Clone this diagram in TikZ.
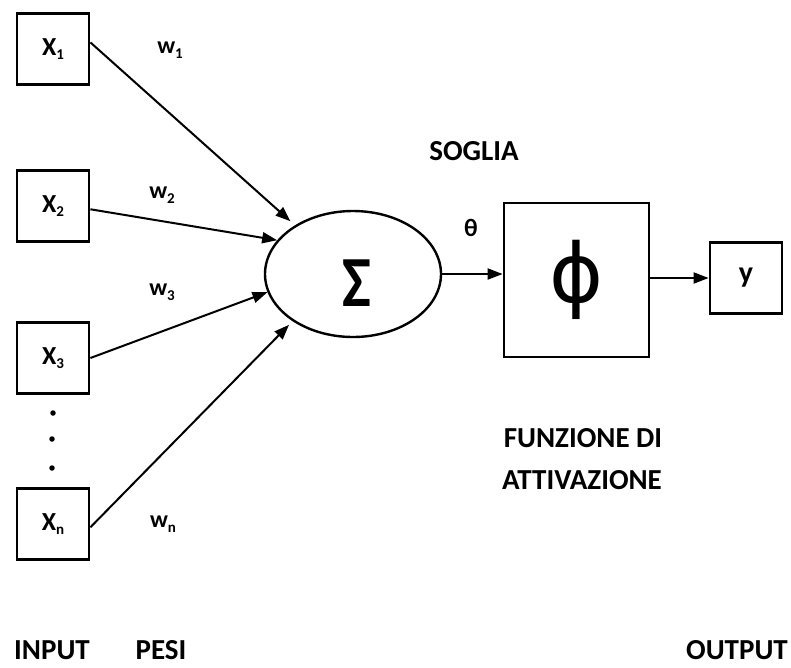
\documentclass[tikz,border=0pt]{standalone}
\usepackage{fontspec}
\setmainfont{Carlito}
\newfontfamily\djv{DejaVu Sans}
\usetikzlibrary{arrows.meta,shapes.geometric}
\newcommand{\sbx}[1]{\raisebox{-4.5pt}{\fontsize{15}{15}\selectfont #1}}
\begin{document}
\begin{tikzpicture}[x=1pt,y=-1pt,
  inbox/.style={draw, line width=2.8pt, minimum width=72pt, minimum height=71pt, inner sep=0pt, font=\fontsize{26}{28}\selectfont\bfseries},
  conn/.style={-{Triangle[length=15pt,width=11pt]}, line width=2pt},
  caplbl/.style={inner sep=0pt, font=\fontsize{29}{32}\selectfont\bfseries},
  wlab/.style={inner sep=0pt, font=\fontsize{24}{26}\selectfont\bfseries},
  dotnode/.style={circle, fill, inner sep=0pt, minimum size=5.5pt}]
\useasboundingbox (0,0) rectangle (791,667);
% inputs
\node[inbox] (x1) at (53,49) {X\sbx{1}};
\node[inbox] (x2) at (53,206) {X\sbx{2}};
\node[inbox] (x3) at (53,358) {X\sbx{3}};
\node[inbox] (xn) at (53,524) {X\sbx{n}};
\node[dotnode] (d1) at (53,413) {};
\node[dotnode] (d2) at (52,439) {};
\node[dotnode] (d3) at (52,468) {};
% summation
\node[draw, ellipse, line width=2.4pt, minimum width=176pt, minimum height=126pt, inner sep=0pt] (sum) at (353,274) {};
\node[font=\fontsize{72}{72}\selectfont\bfseries, inner sep=0pt] (sig) at (357,283) {\scalebox{0.85}[1]{Σ}};
% activation
\node[draw, line width=2.8pt, minimum width=145pt, minimum height=154pt, inner sep=0pt] (phi) at (576.5,280) {};
\node[font=\djv\fontsize{82}{82}\selectfont, inner sep=0pt] (phisym) at (577,280) {ϕ};
% output
\node[inbox, font=\fontsize{30}{32}\selectfont\bfseries] (yout) at (746,278) {y};
% connectors
\draw[conn, shorten >=6pt] (x1.10) -- (sum.140);
\draw[conn] (x2.-5) -- (sum.156);
\draw[conn] (x3.east) -- (sum.192);
\draw[conn, shorten >=5pt] (xn.-5) -- (sum.218);
\draw[conn] (sum.east) -- (sum.east -| phi.west);
\draw[conn] (phi.east |- yout.west) -- (yout.west);
% labels
\node[wlab] (w1) at (170,50) {w\sbx{1}};
\node[wlab] (w2) at (162,195) {w\sbx{2}};
\node[wlab] (w3) at (162,292) {w\sbx{3}};
\node[wlab] (wn) at (163,524) {w\sbx{n}};
\node[inner sep=0pt, font=\fontsize{25}{26}\selectfont\bfseries] (theta) at (471,228) {θ};
\node[caplbl] (soglia) at (474,151) {SOGLIA};
\node[caplbl] (funz) at (583,438) {FUNZIONE DI};
\node[caplbl] (attiv) at (582,480) {ATTIVAZIONE};
\node[caplbl] (inp) at (52,650) {INPUT};
\node[caplbl] (pesi) at (161,650) {PESI};
\node[caplbl] (outp) at (737,650) {OUTPUT};
\end{tikzpicture}
\end{document}
